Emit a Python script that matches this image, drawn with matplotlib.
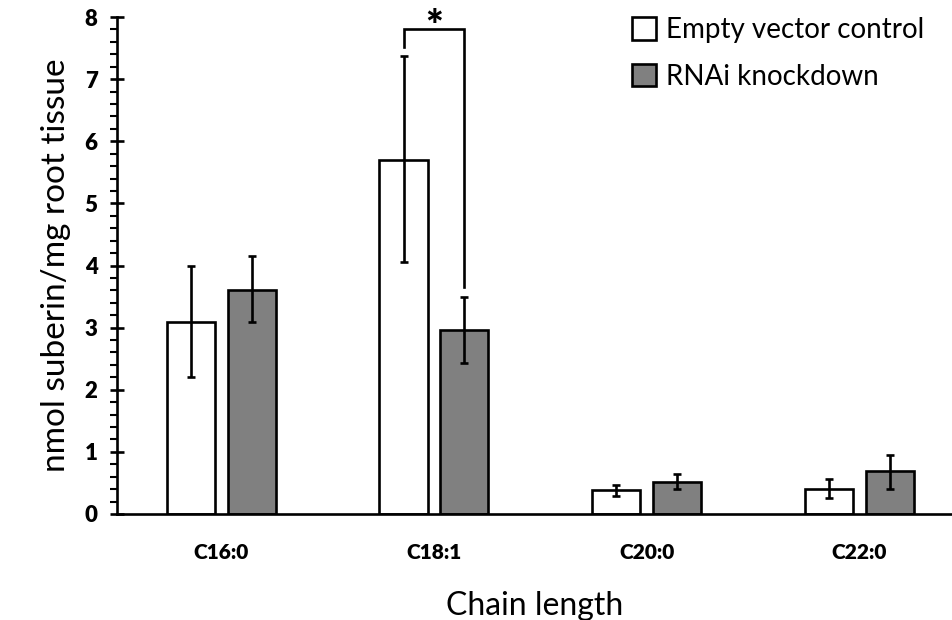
import matplotlib
matplotlib.use("Agg")
import matplotlib.pyplot as plt
import numpy as np
from matplotlib.ticker import MultipleLocator

categories = ["C16:0", "C18:1", "C20:0", "C22:0"]
series_names = ["Empty vector control", "RNAi knockdown"]
control = [3.09, 5.70, 0.38, 0.40]
control_lo = [2.20, 4.05, 0.29, 0.25]
control_hi = [4.00, 7.37, 0.46, 0.56]
rnai = [3.61, 2.96, 0.52, 0.69]
rnai_lo = [3.09, 2.43, 0.40, 0.41]
rnai_hi = [4.16, 3.50, 0.64, 0.95]
y_ticks = [0, 1, 2, 3, 4, 5, 6, 7, 8]

plt.rcParams['font.family'] = ['Lato', 'DejaVu Sans']

fig = plt.figure(figsize=(9.53, 6.2), dpi=100)
ax = fig.add_axes([117/953, 1 - 514/620, 1 - 117/953, 497/620])

x = np.arange(len(categories))
w = 0.226
off = 0.143
edge_lw = 1.9

c_err = [np.array(control) - np.array(control_lo), np.array(control_hi) - np.array(control)]
r_err = [np.array(rnai) - np.array(rnai_lo), np.array(rnai_hi) - np.array(rnai)]

ax.bar(x - off, control, w, color="white", edgecolor="black", linewidth=edge_lw,
       label=series_names[0], zorder=2)
ax.bar(x + off, rnai, w, color="#808080", edgecolor="black", linewidth=edge_lw,
       label=series_names[1], zorder=2)
ax.errorbar(x - off, control, yerr=c_err, fmt="none", ecolor="black", elinewidth=1.9,
            capsize=3, capthick=1.9, zorder=3)
ax.errorbar(x + off, rnai, yerr=r_err, fmt="none", ecolor="black", elinewidth=1.9,
            capsize=3, capthick=1.9, zorder=3)

# significance bracket for C18:1
i = 1
ax.plot([i - off, i - off, i + off, i + off], [7.52, 7.81, 7.81, 3.66],
        color="black", linewidth=1.9, solid_joinstyle="miter", zorder=3)
ax.text(i, 7.83, "*", ha="center", va="center", fontsize=30, fontweight="heavy")

ax.set_xlim(-0.49, 3.44)
ax.set_ylim(0, 8)
ax.set_yticks(y_ticks)
ax.yaxis.set_minor_locator(MultipleLocator(0.2))
ax.set_xticks(x)
ax.set_xticklabels(categories, fontsize=15, fontweight="heavy")
for lab in ax.get_yticklabels():
    lab.set_fontsize(16)
    lab.set_fontweight("heavy")

ax.tick_params(axis="y", which="major", direction="inout", length=10, width=1.9, pad=9)
ax.tick_params(axis="y", which="minor", direction="out", length=5, width=1.5)
ax.tick_params(axis="x", which="major", length=0, pad=21)

for s in ["top", "right"]:
    ax.spines[s].set_visible(False)
ax.spines["left"].set_linewidth(1.9)
ax.spines["bottom"].set_linewidth(1.9)

ax.set_ylabel("nmol suberin/mg root tissue", fontsize=24, labelpad=10)
ax.set_xlabel("Chain length", fontsize=23, labelpad=21)

leg = ax.legend(loc="upper right", bbox_to_anchor=(0.995, 1.05), frameon=False,
                fontsize=20, handlelength=0.85, handleheight=0.85, handletextpad=0.35,
                labelspacing=0.75)

fig.savefig("out.png", dpi=100)
